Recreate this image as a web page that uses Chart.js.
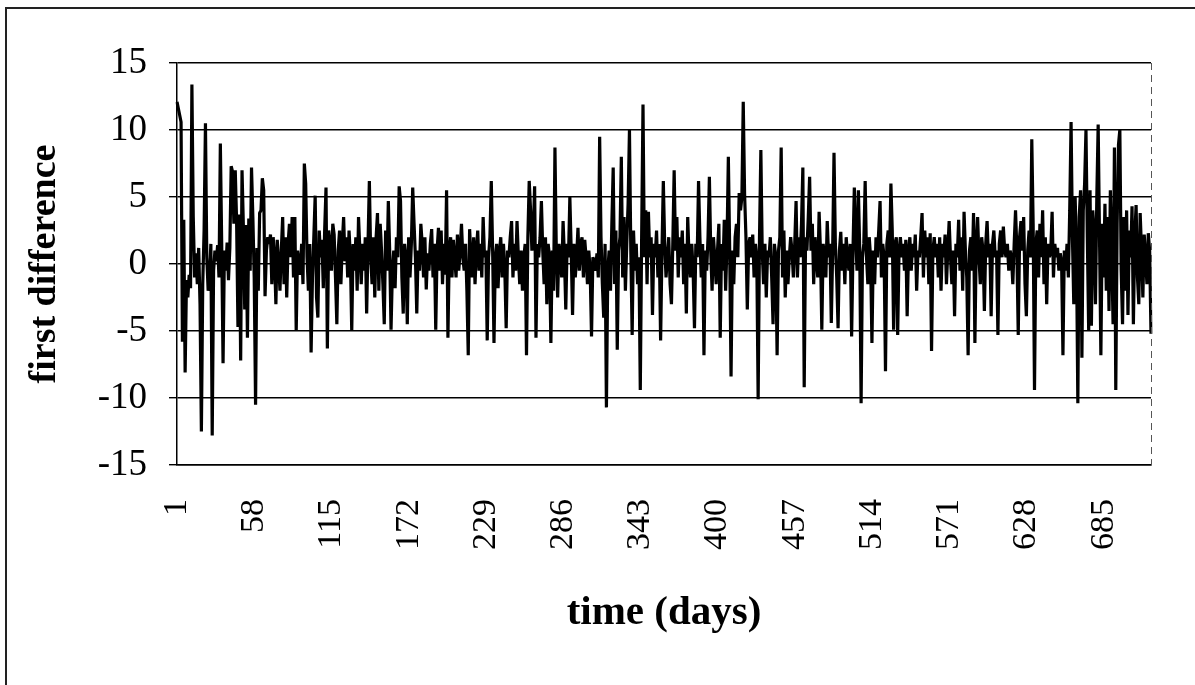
<!DOCTYPE html>
<html>
<head>
<meta charset="utf-8">
<script src="https://cdn.jsdelivr.net/npm/chart.js@4/dist/chart.umd.min.js"></script>
<style>
  html, body { margin: 0; padding: 0; background: #fff; }
  #wrap { position: relative; width: 1195px; height: 685px; overflow: hidden; }
  #frame { position: absolute; left: 5px; top: 7px; width: 1200px; height: 700px;
           border-left: 2px solid #222; border-top: 2px solid #222; }
  canvas { position: absolute; left: 0; top: 0; }
</style>
</head>
<body>
<div id="wrap">
  <div id="frame"></div>
  <canvas id="chart" width="1195" height="685"></canvas>
</div>
<script>
// first differences, one value per day in 57-day blocks
const seg01 = [
  12.1, 11.6, 11.1, 10.6, -5.8, 3.3, -8.1, -1.2, -2.5, -0.8,
  -1.8, 13.4, 3.5, -1.0, 0.8, -1.5, 1.2, -3.0, -12.5, -1.5,
  2.5, 10.5, 0.5, -2.0, -1.0, 1.5, -12.8, -0.5, 1.0, 0.2,
  1.4, -1.0, 9.0, 1.5, -7.4, 1.0, -0.5, 1.6, -1.2, 1.2,
  7.3, 6.9, 3.0, 7.0, 3.2, -4.7, 3.7, -7.2, 7.0, 2.8,
  -3.4, 2.9, -5.5, 3.4, -0.5, 7.2, 3.5
];
const seg02 = [
  -1.0, -10.5, 1.2, -2.0, 3.8, 4.0, 6.4, 5.5, -2.4, 1.0,
  2.0, 1.5, 2.2, -1.5, 2.0, 0.5, -3.0, 1.8, 0.2, -2.0,
  1.0, 3.5, -1.5, 2.0, -2.5, 1.5, 3.0, 0.5, 3.5, -1.0,
  3.5, -5.0, 1.0, 0.2, -0.8, 1.5, -1.5, 7.5, 6.0, 0.5,
  -2.0, 1.5, -6.6, -1.0, 2.0, 5.1, -2.5, -4.0, 2.5, 0.5,
  1.8, -1.8, 2.5, 5.7, -6.3, 2.5, 1.5
];
const seg03 = [
  -0.5, 3.0, 2.2, -1.0, -4.5, 1.0, 2.5, -1.5, 1.5, 3.5,
  0.2, 2.0, -1.0, 2.5, 0.5, -5.0, 1.5, -0.5, 2.0, -2.0,
  3.5, 1.0, -1.5, 1.5, -0.5, 2.0, -3.7, 1.5, 6.2, 0.5,
  -1.5, 2.0, -2.5, 2.0, 3.8, -2.0, 3.0, 1.0, -1.5, -4.5,
  2.5, -0.5, 4.7, 1.0, -4.9, -0.5, 1.0, -1.8, 2.0, 0.5,
  5.8, 4.7, -1.0, -3.7, 1.5, 0.5, -4.5
];
const seg04 = [
  2.0, -1.0, 1.5, 5.7, 3.0, 0.5, -3.7, 1.0, -0.5, 3.0,
  1.5, -1.0, 2.0, -1.9, 0.8, -0.5, 1.5, 2.6, -1.0, 1.5,
  -4.9, 1.0, 2.7, -0.5, 2.5, -1.5, 1.5, -0.8, 5.5, -5.5,
  1.0, 2.0, -1.0, 1.8, 0.5, -1.0, 2.2, -0.5, 1.0, 3.0,
  0.5, -0.5, 1.5, -2.0, -6.8, 2.6, 0.5, -1.0, 2.0, -1.5,
  1.0, 2.5, -0.5, 1.5, -1.0, 3.5, 0.5
];
const seg05 = [
  1.0, -5.7, 0.5, 2.0, 6.2, 1.0, -5.9, 0.5, 1.5, -1.8,
  0.8, 2.0, -1.0, 1.5, -0.5, -4.8, 1.0, 0.5, 2.0, 3.2,
  -1.0, 1.5, -0.5, 3.2, 0.5, -1.5, 1.0, -2.0, 0.5, 1.5,
  -6.8, 2.0, 6.2, 4.0, 1.0, 2.5, 5.8, -5.5, 1.5, 0.5,
  2.0, 4.7, 1.0, -1.5, 2.0, -3.0, 1.5, 0.5, -5.9, 1.0,
  -2.0, 8.7, 1.0, -2.5, 1.5, 0.5, -1.0
];
const seg06 = [
  3.2, 0.5, -3.4, 1.5, 0.5, 5.0, 1.0, -3.8, 1.5, -1.0,
  0.5, 2.7, -0.5, 1.5, 2.0, -1.0, 1.8, 0.5, -1.5, 1.0,
  -0.5, -5.4, 0.5, 0.2, -0.5, 0.8, -1.0, 9.5, 2.0, -1.5,
  -4.0, 1.5, -10.7, -0.5, 1.0, -2.0, 3.0, 7.2, -1.5, 2.5,
  -6.4, 1.0, 2.0, 8.0, -1.0, 3.5, -2.0, 1.5, 4.5, 10.0,
  1.0, -5.3, 2.5, -0.5, 1.5, -1.5, 0.5
];
const seg07 = [
  -9.4, 2.0, 11.9, 0.5, 4.0, -1.5, 3.9, 0.5, 2.0, -3.8,
  1.5, 0.5, 2.5, -1.0, 1.5, -5.7, 1.0, 6.2, 1.5, -1.0,
  0.5, 2.0, -1.5, -3.0, 1.5, 7.0, 1.0, 3.5, -1.0, 2.0,
  0.5, 2.5, -1.5, 1.5, -3.7, 3.5, 0.5, -1.0, 1.5, -0.5,
  -4.8, 1.5, 0.5, 6.2, 2.0, -1.0, 1.5, -6.8, 1.0, -0.5,
  2.0, 6.5, 1.0, -2.0, 2.0, 0.5, -1.5
];
const seg08 = [
  1.0, 3.0, -5.5, 1.5, -0.5, 3.3, -2.0, 1.5, 8.0, 1.0,
  -8.4, 1.0, -1.5, 2.0, 3.0, 0.5, 5.3, 4.0, 5.0, 12.1,
  5.2, 2.0, -3.4, 1.5, 2.0, 0.5, 2.2, -1.0, 1.5, 0.5,
  -10.1, 2.0, 8.5, 1.0, -1.5, 1.5, -2.5, 1.0, 0.5, 2.0,
  -1.0, -4.5, 1.5, 0.5, -6.8, 1.0, 2.0, 8.7, -1.0, 2.5,
  -2.5, 1.0, -1.5, 0.5, 2.0, 1.0, -1.0
];
const seg09 = [
  1.5, 4.7, -1.0, 2.0, 0.5, 3.0, 7.2, -9.2, 2.0, 1.0,
  3.5, 6.5, 1.0, 3.0, -1.5, 2.0, 0.5, -1.0, 3.9, 1.0,
  -4.9, 1.5, 0.5, -1.0, 3.2, 0.5, 1.5, -4.4, 1.0, 8.3,
  1.5, -1.0, -4.8, 1.0, 2.4, -0.5, 1.5, -1.5, 2.0, 0.5,
  -0.5, 1.5, -5.4, 1.0, 5.7, 2.0, -0.5, 5.5, 1.0, -10.4,
  0.5, 1.5, 6.2, 0.5, -1.5, 2.0, 0.5
];
const seg10 = [
  -5.9, 1.0, -1.5, 2.0, 0.5, 2.5, 4.7, -1.0, 1.5, 0.5,
  -8.0, 1.5, 2.5, 0.5, 6.0, 2.5, -4.9, 1.5, 2.0, -5.3,
  1.0, 2.0, 0.5, 1.5, -0.5, 1.8, -3.9, 1.0, 2.0, -0.5,
  1.5, 0.5, 2.2, -2.0, 1.0, 0.5, 2.0, 3.8, -1.0, 2.5,
  0.5, 2.0, -1.5, 2.3, -6.5, 1.0, 2.0, 0.5, 1.5, -1.0,
  2.0, -2.0, 1.5, 0.5, 2.2, -1.5, 1.0
];
const seg11 = [
  3.2, 0.5, -1.5, 1.0, -3.9, 1.5, 0.5, 3.3, -0.5, 2.0,
  -2.0, 3.9, 1.0, -1.0, -6.8, 1.0, 2.0, -0.5, 3.8, -5.9,
  1.5, 3.5, 0.5, -1.5, 2.0, 1.0, -3.5, 1.5, 3.2, 0.5,
  1.5, -3.9, 1.5, 2.5, 0.5, 1.0, -5.3, 1.5, 2.5, 0.5,
  2.8, 1.0, 0.5, 1.5, -0.5, 1.0, 0.5, -1.5, 1.5, 4.0,
  1.0, -5.3, 2.0, 3.2, 1.0, 3.5, -1.5
];
const seg12 = [
  -3.9, 1.0, 2.5, 0.5, 9.3, 3.0, -9.4, 1.5, 2.5, -1.0,
  3.0, 0.5, 4.0, -1.5, 2.0, -3.0, 1.5, 0.5, 1.0, 3.9,
  -1.0, 1.5, 0.5, 1.2, -0.5, 0.8, 0.2, -6.8, 1.0, -0.5,
  1.5, -1.0, 4.0, 10.6, 2.0, -3.0, 5.0, 1.0, -10.4, 3.5,
  5.5, -7.0, 4.0, 6.0, 10.0, 2.0, -5.0, 5.5, -4.6, 4.0,
  2.5, -3.0, 5.0, 10.4, 2.0, -6.8, 3.0
];
const seg13 = [
  -1.0, 4.5, -2.0, 3.5, -3.5, 5.5, 1.0, -4.5, 8.7, -9.4,
  3.0, 8.9, 10.0, -0.5, -4.5, 3.5, -2.0, 4.0, -3.8, 2.5,
  0.5, 4.3, -4.5, 2.0, 4.4, -1.0, -3.0, 3.8, 1.0, -2.5,
  2.2, 0.5, -1.5, 2.3, 1.0, -5.2
];

const xTickLabels = [1, 58, 115, 172, 229, 286, 343, 400, 457, 514, 571, 628, 685];
const yTicks = [-15, -10, -5, 0, 5, 10, 15];

const firstDifference = [].concat(seg01, seg02, seg03, seg04, seg05, seg06, seg07,
  seg08, seg09, seg10, seg11, seg12, seg13);
const days = firstDifference.map((_, i) => i + 1);

const serif = "'Liberation Serif', 'Times New Roman', serif";

// dashed right edge of the plot area, like the scanned original
const plotFrame = {
  id: 'plotFrame',
  afterDatasetsDraw(chart) {
    const { ctx, chartArea: { top, bottom, right } } = chart;
    ctx.save();
    ctx.strokeStyle = '#555';
    ctx.lineWidth = 1;
    ctx.setLineDash([7, 5]);
    ctx.beginPath();
    ctx.moveTo(right + 0.5, top);
    ctx.lineTo(right + 0.5, bottom);
    ctx.stroke();
    ctx.restore();
  }
};

new Chart(document.getElementById('chart'), {
  type: 'line',
  data: {
    labels: days,
    datasets: [{
      data: firstDifference,
      borderColor: '#000',
      borderWidth: 3.2,
      borderJoinStyle: 'bevel',
      pointRadius: 0,
      tension: 0
    }]
  },
  options: {
    responsive: false,
    animation: false,
    devicePixelRatio: 1,
    layout: { padding: { left: 10, right: 44, top: 63, bottom: 0 } },
    plugins: {
      legend: { display: false },
      tooltip: { enabled: false }
    },
    scales: {
      x: {
        grid: { display: false, drawTicks: false },
        border: { display: true, color: '#000', width: 1.5 },
        ticks: {
          autoSkip: false,
          minRotation: 90,
          maxRotation: 90,
          padding: 34,
          color: '#000',
          font: { family: serif, size: 34 },
          callback: (v, i) => xTickLabels.includes(days[i]) ? String(days[i]) : null
        },
        title: {
          display: true,
          text: 'time (days)',
          color: '#000',
          font: { family: serif, size: 41, weight: 'bold' },
          padding: { top: 0, bottom: 47 }
        },
        afterFit: s => { s.height = 220; }
      },
      y: {
        min: -15,
        max: 15,
        afterBuildTicks: s => { s.ticks = yTicks.map(v => ({ value: v })); },
        ticks: {
          color: '#000',
          padding: 22,
          font: { family: serif, size: 37 }
        },
        grid: { color: '#000', lineWidth: 1.4, tickLength: 8 },
        border: { color: '#000', width: 1.5 },
        title: {
          display: true,
          text: 'first difference',
          color: '#000',
          font: { family: serif, size: 38, weight: 'bold' },
          padding: { top: 12, bottom: 0 }
        },
        afterFit: s => { s.width = 167; }
      }
    }
  },
  plugins: [plotFrame]
});
</script>
</body>
</html>
